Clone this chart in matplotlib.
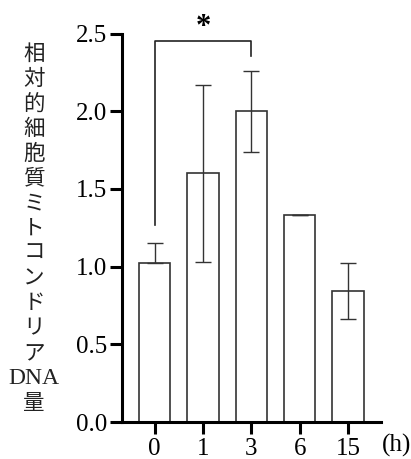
import matplotlib
matplotlib.use('Agg')
import matplotlib.pyplot as plt
import numpy as np

# 時間ごとの相対的細胞質ミトコンドリアDNA量
times = ['0', '1', '3', '6', '15']
means = [1.02, 1.60, 2.00, 1.33, 0.84]
err_lo = [0.0, 0.57, 0.26, 0.0, 0.18]
err_hi = [0.13, 0.57, 0.26, 0.0, 0.18]

# 有意差の括弧 (0h と 3h)
sig_pair = (0, 2)
sig_top = 2.45
sig_legs = (1.27, 2.355)

plt.rcParams['font.family'] = ['Liberation Serif', 'DejaVu Serif']
cjk = ['Noto Sans CJK JP', 'DejaVu Sans']

fig = plt.figure(figsize=(4.11, 4.59), dpi=100)
ax = fig.add_axes([0.297, 0.0806, 0.629, 0.8464])

x = np.arange(len(times))
ax.bar(x, means, width=0.65, color='white', edgecolor='#333333', linewidth=1.2, zorder=2)
ax.errorbar(x, means, yerr=[err_lo, err_hi], fmt='none', ecolor='#333333',
            elinewidth=1.0, capsize=5.6, capthick=1.0, zorder=3)

ax.set_xlim(-0.67, 4.67)
ax.set_ylim(0, 2.5)
ax.set_yticks(np.arange(0, 2.51, 0.5))
ax.set_yticklabels([f'{v:.1f}' for v in np.arange(0, 2.51, 0.5)], fontsize=18)
ax.set_xticks(x)
ax.set_xticklabels(times, fontsize=18)

for s in ['top', 'right']:
    ax.spines[s].set_visible(False)
for s in ['left', 'bottom']:
    ax.spines[s].set_linewidth(2.2)
ax.tick_params(axis='both', width=2.2, length=8.5, color='black')
ax.tick_params(axis='y', pad=2)
ax.tick_params(axis='x', pad=3)

# 有意差の括弧と星印
x0, x1 = sig_pair
ax.plot([x0, x0, x1, x1], [sig_legs[0], sig_top, sig_top, sig_legs[1]],
        color='#222222', linewidth=1.2, clip_on=False, zorder=4)
ax.text((x0 + x1) / 2, 2.54, '*', ha='center', va='center', fontsize=22,
        fontweight='bold', clip_on=False)

# 時間の単位
ax.text(5.0, -0.0295, '(h)', transform=ax.get_xaxis_transform(), ha='center', va='top',
        fontsize=18, clip_on=False)

# 縦書きのy軸ラベル
label_lines = list('相対的細胞質ミトコンドリア') + ['DNA', '量']
H = 459
top_c, bot_c = 54, 403
pitch = (bot_c - top_c) / (len(label_lines) - 1)
for i, s in enumerate(label_lines):
    yc = top_c + i * pitch
    if s == 'DNA':
        fig.text(34 / 411, 1 - yc / H, s, ha='center', va='center', fontsize=17,
                 color='#222222')
    else:
        fig.text(34 / 411, 1 - yc / H, s, ha='center', va='center', fontsize=15.5,
                 family=cjk, color='#222222')

fig.savefig('out.png', dpi=100)
